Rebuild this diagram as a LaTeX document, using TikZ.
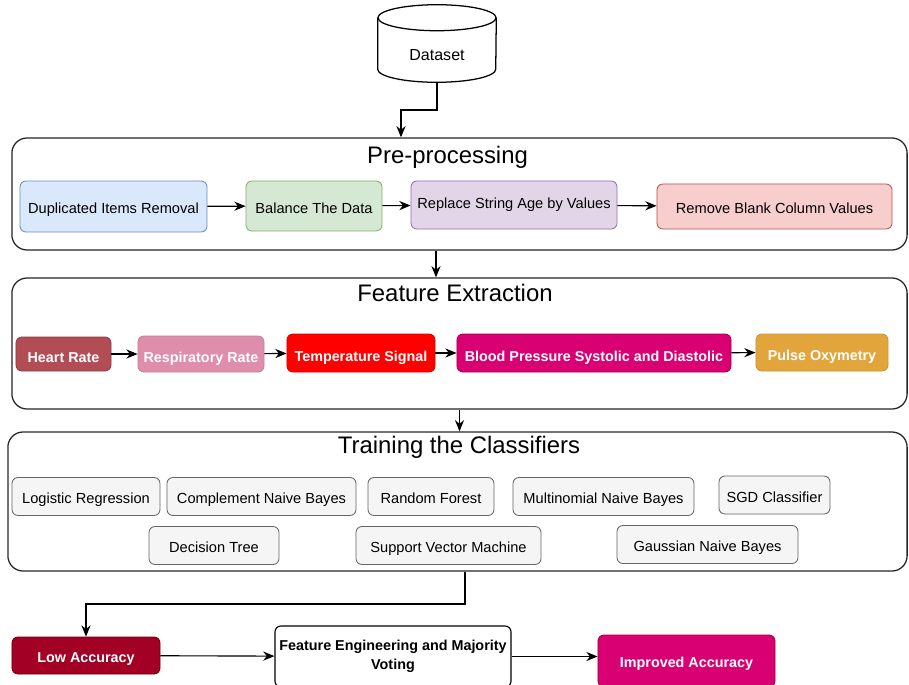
\documentclass[tikz,border=0pt]{standalone}
\usepackage{fontspec}
\setmainfont{Liberation Sans}
\usetikzlibrary{arrows.meta}

\definecolor{blueF}{HTML}{DAE8FC}
\definecolor{blueD}{HTML}{6C8EBF}
\definecolor{greenF}{HTML}{D5E8D4}
\definecolor{greenD}{HTML}{82B366}
\definecolor{purpleF}{HTML}{E1D5E7}
\definecolor{purpleD}{HTML}{9673A6}
\definecolor{redF}{HTML}{F8CECC}
\definecolor{redD}{HTML}{B85450}
\definecolor{grayF}{HTML}{F5F5F5}
\definecolor{grayD}{HTML}{666666}
\definecolor{heartF}{HTML}{B24D56}
\definecolor{respF}{HTML}{DE8DAA}
\definecolor{tempF}{HTML}{FF0000}
\definecolor{magF}{HTML}{D80073}
\definecolor{magD}{HTML}{A50040}
\definecolor{pulseF}{HTML}{E2A53B}
\definecolor{crimF}{HTML}{A20025}
\definecolor{crimD}{HTML}{6F0000}

\tikzset{
  stage/.style={draw=black!85, fill=white, line width=0.9pt, rounded corners=0.38cm, inner sep=0pt},
  stagetitle/.style={font=\fontsize{17}{20}\selectfont},
  procbox/.style={rounded corners=0.15cm, line width=0.6pt, inner sep=0pt, text height=1em, text depth=0pt},
  featbox/.style={procbox, text=white, font=\fontsize{10.2}{12}\selectfont\bfseries, text height=1.15em},
  clfbox/.style={procbox, fill=grayF, draw=grayD, minimum height=0.95cm},
  arr/.style={-{Stealth[length=8pt,width=6.5pt]}, line width=0.8pt},
}

\begin{document}
\begin{tikzpicture}[x={(0.025cm,0)}, y={(0,-0.025cm)}, font=\fontsize{10.4}{12.5}\selectfont]

\useasboundingbox (0,0) rectangle (909,685);

    %stages
    \node[stage, minimum width=22.375cm, minimum height=2.8cm] (pre) at (459.5,194) {};
    \node[stage, minimum width=22.375cm, minimum height=3.275cm] (feat) at (459.5,343.5) {};
    \node[stage, minimum width=22.475cm, minimum height=3.475cm] (train) at (457.5,501.5) {};

    \node[stagetitle] (pretitle) at (447.5,157) {Pre-processing};
    \node[stagetitle] (feattitle) at (455,293) {Feature Extraction};
    \node[stagetitle] (traintitle) at (459,447) {Training the Classifiers};

    %dataset
    \node[inner sep=0pt, minimum width=2.95cm, minimum height=1.925cm,
      label={[font=\fontsize{11.4}{13}\selectfont, yshift=-0.29cm]center:Dataset}] (dataset) at (437,43.5) {};
    \draw[line width=0.9pt] ([yshift=-0.325cm]dataset.north west) -- ([yshift=0.325cm]dataset.south west)
      arc[start angle=180, end angle=360, x radius=1.475cm, y radius=0.325cm] -- ([yshift=-0.325cm]dataset.north east);
    \draw[line width=0.9pt] ([yshift=-0.325cm]dataset.north) ellipse [x radius=1.475cm, y radius=0.325cm];

    %pre-processing
    \node[procbox, fill=blueF, draw=blueD, minimum width=4.675cm, minimum height=1.275cm] (dup) at (113.5,206.5) {Duplicated Items Removal};
    \node[procbox, fill=greenF, draw=greenD, minimum width=3.4cm, minimum height=1.25cm] (bal) at (314,206) {Balance The Data};
    \node[procbox, fill=purpleF, draw=purpleD, minimum width=5.15cm, minimum height=1.2cm, text height=0.5em] (rep) at (514,205) {Replace String Age by Values};
    \node[procbox, fill=redF, draw=redD, minimum width=5.875cm, minimum height=1.125cm] (rem) at (774.5,206.5) {Remove Blank Column Values};

    %features
    \node[featbox, fill=heartF, draw=heartF!80!black, minimum width=2.375cm, minimum height=0.85cm] (hr) at (63.5,354) {Heart Rate};
    \node[featbox, fill=respF, draw=respF!90!black, minimum width=3.15cm, minimum height=0.9cm] (rr) at (201,354) {Respiratory Rate};
    \node[featbox, fill=tempF, draw=tempF!85!black, minimum width=3.7cm, minimum height=0.95cm] (ts) at (361,353) {Temperature Signal};
    \node[featbox, fill=magF, draw=magD, minimum width=6.85cm, minimum height=0.95cm] (bp) at (594,353) {Blood Pressure Systolic and Diastolic};
    \node[featbox, fill=pulseF, draw=pulseF!90!black, minimum width=3.3cm, minimum height=0.925cm] (po) at (822,352.5) {Pulse Oxymetry};

    %classifiers
    \node[clfbox, minimum width=3.7cm] (lr) at (86,496.5) {Logistic Regression};
    \node[clfbox, minimum width=4.725cm] (cnb) at (261.5,496.5) {Complement Naive Bayes};
    \node[clfbox, minimum width=3.15cm] (rf) at (431,496.5) {Random Forest};
    \node[clfbox, minimum width=4.525cm] (mnb) at (603.5,496.5) {Multinomial Naive Bayes};
    \node[clfbox, minimum width=2.775cm] (sgd) at (774.5,495) {SGD Classifier};
    \node[clfbox, minimum width=3.25cm] (dt) at (214,545.5) {Decision Tree};
    \node[clfbox, minimum width=4.625cm] (svm) at (448.5,545.5) {Support Vector Machine};
    \node[clfbox, minimum width=4.525cm] (gnb) at (707.5,544.5) {Gaussian Naive Bayes};

    %results
    \node[featbox, fill=crimF, draw=crimD, minimum width=3.7cm, minimum height=0.925cm, text height=1em] (low) at (86,655.5) {Low Accuracy};
    \node[rounded corners=0.15cm, inner sep=0pt, draw=black, fill=white, line width=0.8pt, align=center, font=\fontsize{10.2}{13.5}\selectfont\bfseries, minimum width=5.9cm, minimum height=1.525cm] (fe) at (393,656.5) {Feature Engineering and Majority\\Voting};
    \node[featbox, fill=magF, draw=magD, minimum width=4.425cm, minimum height=1.3cm, text height=0.9em] (imp) at (686.5,661) {Improved Accuracy};

    %arrows
    \draw[arr] (dataset.south) -- (437,110) -| (pre.north -| 401,0);
    \draw[arr] (dup) -- (bal);
    \draw[arr] (bal) -- (rep);
    \draw[arr] (rep) -- (rem);
    \draw[arr] (pre.south -| 436,0) -- (feat.north -| 436,0);
    \draw[arr] (hr) -- (rr);
    \draw[arr] (rr) -- (ts);
    \draw[arr] (ts) -- (bp);
    \draw[arr] (bp) -- (po);
    \draw[arr] (feat.south) -- (feat.south |- train.north);
    \draw[arr] (train.south -| 465,0) -- (465,604) -| (low.north);
    \draw[arr] (low) -- (fe);
    \draw[arr] (fe.east) -- (fe.east -| imp.west);
\end{tikzpicture}
\end{document}
